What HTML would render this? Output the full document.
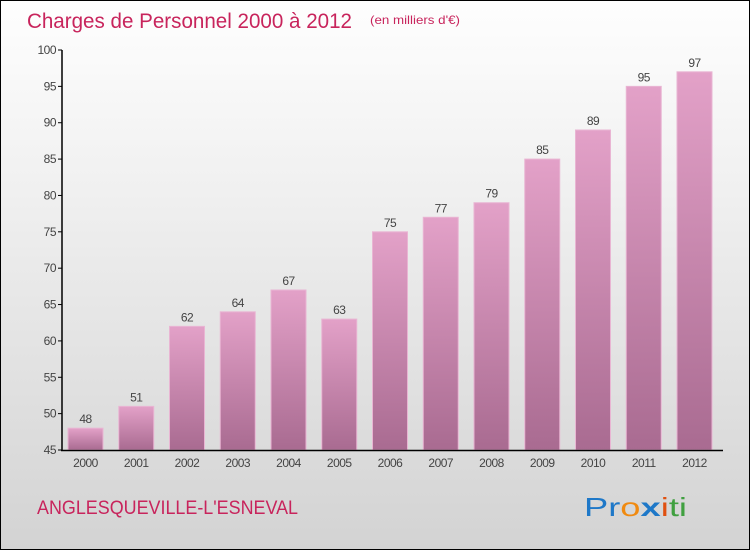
<!DOCTYPE html>
<html><head><meta charset="utf-8"><style>
body{margin:0}
#c{width:748px;height:548px;border:1px solid #000;background:linear-gradient(#fefefe,#f2f2f2 30%,#d3d3d3);position:relative;font-family:"Liberation Sans",sans-serif}
</style></head><body>
<div id="c">
<svg width="748" height="548" id="s">
<defs><linearGradient id="g" x1="0" y1="0" x2="0" y2="1"><stop offset="0" stop-color="#e3a1c8"/><stop offset="1" stop-color="#a96b91"/></linearGradient></defs>
<text x="26" y="27" font-size="21" fill="#c8245c" font-family="Liberation Sans" textLength="325" lengthAdjust="spacingAndGlyphs">Charges de Personnel 2000 à 2012</text>
<text x="369" y="23" font-size="12" fill="#c8245c" textLength="90" lengthAdjust="spacingAndGlyphs">(en milliers d'€)</text>
<text x="36" y="513" font-size="19" fill="#c8245c" textLength="261" lengthAdjust="spacingAndGlyphs">ANGLESQUEVILLE-L'ESNEVAL</text>
<g font-size="26" font-family="Liberation Sans"><text x="583" y="515" textLength="103" lengthAdjust="spacingAndGlyphs"><tspan fill="#1e78c8">Pr</tspan><tspan fill="#f08a10">o</tspan><tspan fill="#1e78c8" font-weight="bold">x</tspan><tspan fill="#e05010">i</tspan><tspan fill="#40a040">ti</tspan></text></g>
</svg>
<script>
const categories=["2000","2001","2002","2003","2004","2005","2006","2007","2008","2009","2010","2011","2012"];
const values=[48,51,62,64,67,63,75,77,79,85,89,95,97];
const yTicks=[45,50,55,60,65,70,75,80,85,90,95,100];
const s=document.getElementById('s'),NS='http://www.w3.org/2000/svg';
const y0=449,yTop=49,vMin=45,vMax=100;
const y=v=>y0-(v-vMin)/(vMax-vMin)*(y0-yTop);
const x=i=>67+i*50.75;
function el(t,a,p){const e=document.createElementNS(NS,t);for(const k in a)e.setAttribute(k,a[k]);(p||s).appendChild(e);return e;}
yTicks.forEach(t=>{
const l=el('line',{x1:57,x2:61,y1:y(t),y2:y(t),stroke:'#000'});


const tx=el('text',{x:55,y:y(t)+4,'text-anchor':'end','font-size':12,fill:'#444','letter-spacing':'-0.5'});tx.textContent=t;


});
values.forEach((v,i)=>{
const r=el('rect',{x:x(i),y:y(v),width:35,height:y0-y(v),fill:'url(#g)',stroke:'#e9b5d3','stroke-width':1});


const t=el('text',{x:x(i)+17.5,y:y(v)-5,'text-anchor':'middle','font-size':12,fill:'#444','letter-spacing':'-0.5'});t.textContent=v;


const c=el('text',{x:x(i)+17.5,y:466,'text-anchor':'middle','font-size':12,fill:'#444','letter-spacing':'-0.5'});c.textContent=categories[i];


});
const ya=el('line',{x1:61,x2:61,y1:yTop,y2:y0+1,stroke:'#000','stroke-width':1.5});


const xa=el('line',{x1:60,x2:722,y1:y0+0.5,y2:y0+0.5,stroke:'#000','stroke-width':1.5});


</script>
</div></body></html>
